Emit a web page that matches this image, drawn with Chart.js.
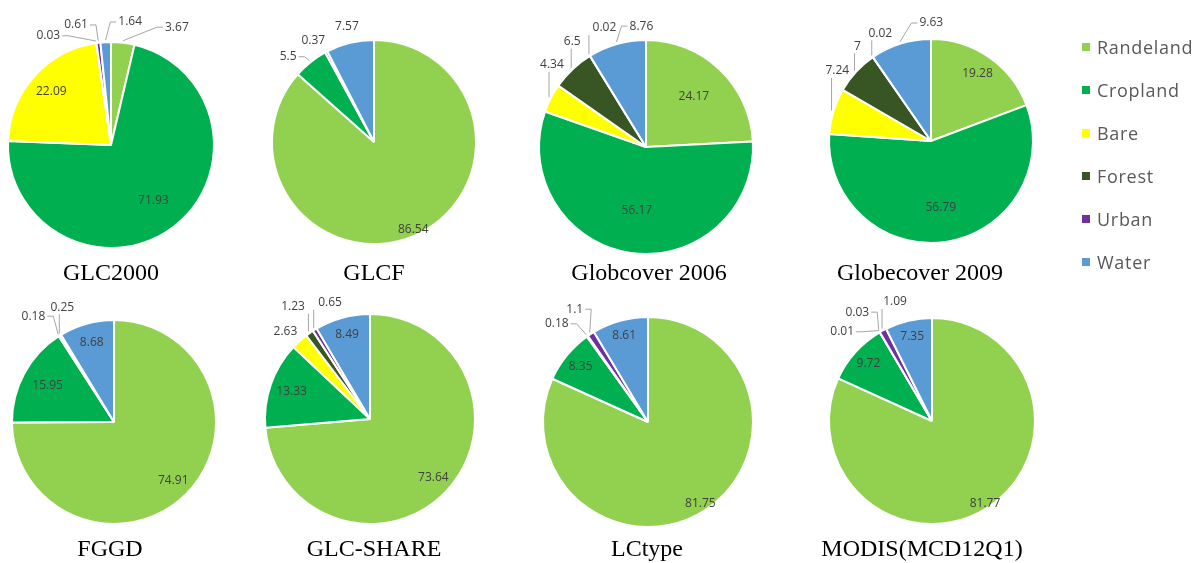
<!DOCTYPE html>
<html><head><meta charset="utf-8">
<script src="https://cdn.jsdelivr.net/npm/chart.js@4.4.1/dist/chart.umd.min.js"></script>
<style>
html,body{margin:0;padding:0;background:#fff;}
body{width:1204px;height:563px;position:relative;overflow:hidden;}
canvas.pie{position:absolute;}
.title{position:absolute;font-family:"Liberation Serif","Times New Roman",serif;font-size:24px;color:#000;transform:translate(-50%,-50%);white-space:nowrap;line-height:1;}
.leg{position:absolute;left:1082px;font-family:"Open Sans",sans-serif;font-size:18px;letter-spacing:0.7px;color:#595959;white-space:nowrap;line-height:1;}
.leg i{position:absolute;left:0;width:8px;height:8px;}
.leg span{position:absolute;left:15px;transform:translateY(-50%);}
</style></head><body>
<script>
// ---- data ----
const categories = ['Randeland','Cropland','Bare','Forest','Urban','Water'];
const chartNames = ['GLC2000','GLCF','Globcover 2006','Globecover 2009','FGGD','GLC-SHARE','LCtype','MODIS(MCD12Q1)'];
const glc2000   = [3.67, 71.93, 22.09, 0.03, 0.61, 1.64];
const glcf      = [86.54, 5.5, 0, 0, 0.37, 7.57];
const globcover2006 = [24.17, 56.17, 4.34, 6.5, 0.02, 8.76];
const globcover2009 = [19.28, 56.79, 7.24, 7, 0.02, 9.63];
const fggd      = [74.91, 15.95, 0, 0.18, 0.25, 8.68];
const glcShare  = [73.64, 13.33, 2.63, 1.23, 0.65, 8.49];
const lctype    = [81.75, 8.35, 0, 0.18, 1.1, 8.61];
const modis     = [81.77, 9.72, 0.01, 0.03, 1.09, 7.35];
const seriesValues = [glc2000, glcf, globcover2006, globcover2009, fggd, glcShare, lctype, modis];

// ---- styles / layout ----
const colors = ['#92d050','#00b050','#ffff00','#375623','#7030a0','#5b9bd5'];
const layouts = [
  {cx:111, cy:145, r:103, tx:111, ty:272},
  {cx:374, cy:142, r:102, tx:374, ty:272},
  {cx:646, cy:147, r:107, tx:649, ty:272},
  {cx:931, cy:141, r:102, tx:920, ty:272},
  {cx:114, cy:422, r:102, tx:110, ty:548},
  {cx:370, cy:419, r:105, tx:374, ty:548},
  {cx:648, cy:422, r:105, tx:647, ty:548},
  {cx:932, cy:421, r:103, tx:922, ty:548}
];
// label placement: ['in', radiusFactor] or ['out', angleShiftDeg, gapPx]
const labelSpecs = [
  [['out',22.6,32],['in',0.68],['in',0.78],['out',-21.7,23],['out',-9.2,22],['out',11.8,21.5]],
  [['in',0.94],['out',-6.7,19],null,null,['out',-3,16],['out',0.5,17]],
  [['in',0.65],['in',0.6],['out',14,18],['out',8.3,21.5],['out',12.3,19],['out',13.6,14]],
  [['in',0.8],['in',0.66],['out',19.8,15],['out',9.6,18],['out',9.5,17],['out',17.5,16]],
  [['in',0.82],['in',0.74],null,['out',-4.8,31],['out',7.5,24],['in',0.81]],
  [['in',0.82],['in',0.79],['out',-2,16.6],['out',0.7,31],['out',12.8,18],['in',0.83]],
  [['in',0.92],['in',0.83],null,['out',-7.6,29],['out',0,29.5],['in',0.85]],
  [['in',0.95],['in',0.83],['out',-14.7,23.6],['out',-4,29],['out',11.2,21.6],['in',0.84]]
];

const sliceLabels = {
  id:'sliceLabels',
  afterDatasetsDraw(chart, args, opts){
    const ctx = chart.ctx;
    const meta = chart.getDatasetMeta(0);
    const data = chart.data.datasets[0].data;
    ctx.save();
    ctx.font = '12px "Open Sans"';
    ctx.fillStyle = '#404040';
    ctx.textAlign = 'center';
    ctx.textBaseline = 'middle';
    meta.data.forEach((arc,i)=>{
      const spec = opts.specs[i];
      if(!spec || !data[i]) return;
      const p = arc.getProps(['x','y','startAngle','endAngle','outerRadius'], true);
      const mid = (p.startAngle + p.endAngle)/2;
      const text = String(data[i]);
      if(spec[0]==='in'){
        const lx = p.x + Math.cos(mid)*p.outerRadius*spec[1];
        const ly = p.y + Math.sin(mid)*p.outerRadius*spec[1];
        ctx.fillText(text, lx, ly);
        return;
      }
      const a = mid + spec[1]*Math.PI/180;
      const d = p.outerRadius + spec[2];
      const lx = p.x + Math.cos(a)*d, ly = p.y + Math.sin(a)*d;
      const w = ctx.measureText(text).width;
      const box = {l:lx-w/2-2, r:lx+w/2+2, t:ly-7, b:ly+7};
      const sx = p.x + Math.cos(mid)*(p.outerRadius+2);
      const sy = p.y + Math.sin(mid)*(p.outerRadius+2);
      let pts = null;
      if(sx < box.l-4) pts = [[sx,sy],[box.l-6,ly],[box.l,ly]];
      else if(sx > box.r+4) pts = [[sx,sy],[box.r+6,ly],[box.r,ly]];
      else if(sy > box.b+2) pts = [[sx,sy],[sx,box.b]];
      if(pts){
        let len = 0;
        for(let k=1;k<pts.length;k++) len += Math.hypot(pts[k][0]-pts[k-1][0], pts[k][1]-pts[k-1][1]);
        if(len > 12){
          ctx.strokeStyle = '#a6a6a6';
          ctx.lineWidth = 1;
          ctx.beginPath();
          ctx.moveTo(pts[0][0], pts[0][1]);
          for(let k=1;k<pts.length;k++) ctx.lineTo(pts[k][0], pts[k][1]);
          ctx.stroke();
        }
      }
      ctx.fillText(text, lx, ly);
    });
    ctx.restore();
  }
};

const S = 310;
seriesValues.forEach((vals, idx)=>{
  const L = layouts[idx];
  const cv = document.createElement('canvas');
  cv.className = 'pie';
  cv.width = S; cv.height = S;
  cv.style.width = S+'px'; cv.style.height = S+'px';
  cv.style.left = (L.cx - S/2)+'px';
  cv.style.top = (L.cy - S/2)+'px';
  document.body.appendChild(cv);
  new Chart(cv, {
    type:'pie',
    data:{labels:categories, datasets:[{data:vals, backgroundColor:colors, borderColor:'#ffffff', borderWidth:2}]},
    options:{
      responsive:false, animation:false, events:[],
      radius:L.r,
      layout:{padding:0},
      plugins:{legend:{display:false}, tooltip:{enabled:false}, sliceLabels:{specs:labelSpecs[idx]}}
    },
    plugins:[sliceLabels]
  });
  const t = document.createElement('div');
  t.className = 'title';
  t.textContent = chartNames[idx];
  t.style.left = L.tx+'px'; t.style.top = L.ty+'px';
  document.body.appendChild(t);
});

// legend
const legendY = [47, 90, 133, 176, 219, 262];
categories.forEach((c,i)=>{
  const d = document.createElement('div');
  d.className = 'leg';
  d.style.top = legendY[i]+'px';
  d.innerHTML = '<i style="background:'+colors[i]+';top:-4px"></i><span>'+c+'</span>';
  document.body.appendChild(d);
});
</script>
</body></html>
